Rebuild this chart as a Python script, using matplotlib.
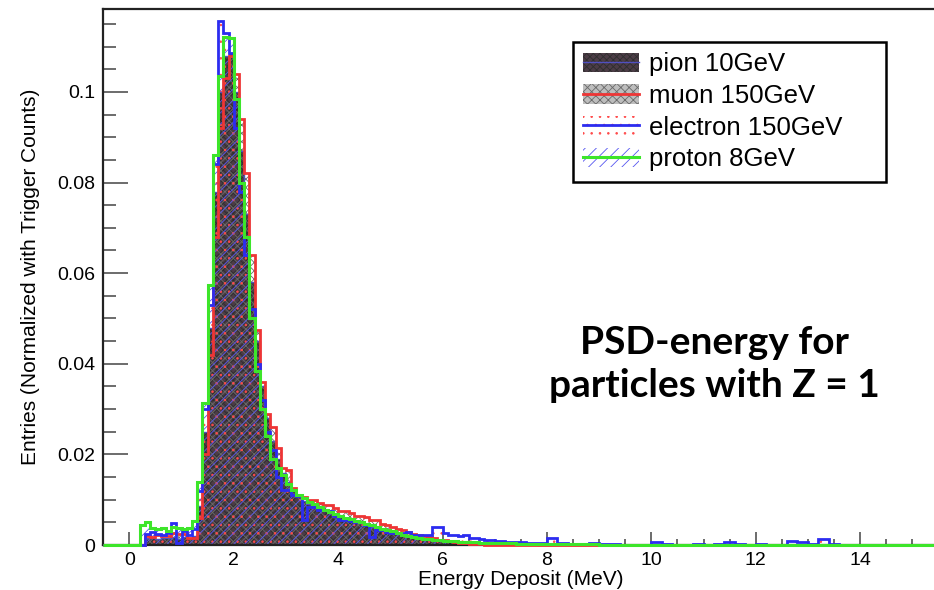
import numpy as np
import matplotlib
matplotlib.use('Agg')
import matplotlib.pyplot as plt
from matplotlib.patches import Patch
from matplotlib.lines import Line2D
from matplotlib.legend_handler import HandlerTuple
from matplotlib.ticker import MultipleLocator, FixedLocator

plt.rcParams['font.family'] = ['Liberation Sans', 'DejaVu Sans']
plt.rcParams['hatch.linewidth'] = 0.6

# bins: one empty bin from -0.5 to 0, then 0.1 MeV up to 7 MeV, then 0.2 MeV up to 16 MeV
fine_edges = np.linspace(0, 7, 71)
tail_edges = np.linspace(7, 16, 46)[1:]
edges = np.concatenate([[-0.5], fine_edges, tail_edges])

# normalized entries, first value is the [-0.5, 0) bin
pion_fine = [0, 0, 0, 0, 0.0015, 0.0016, 0.0014, 0.0015, 0.0016, 0.0018, 0.0014,
             0.0017, 0.0015, 0.0020, 0.0085, 0.0250, 0.0480, 0.0780, 0.1000, 0.1080, 0.1085,
             0.1000, 0.0870, 0.0730, 0.0580, 0.0450, 0.0350, 0.0280, 0.0230, 0.0190, 0.0160,
             0.0140, 0.0120, 0.0108, 0.0098, 0.0090, 0.0086, 0.0080, 0.0075, 0.0070, 0.0066,
             0.0062, 0.0058, 0.0054, 0.0051, 0.0048, 0.0044, 0.0040, 0.0037, 0.0034, 0.0031,
             0.0028, 0.0025, 0.0022, 0.0020, 0.0018, 0.0016, 0.0014, 0.0012, 0.0011, 0.0010,
             0.0009, 0.0008, 0.0007, 0.0006, 0.0005, 0.0005, 0.0004, 0.0004, 0.0003, 0.0003]
muon_fine = [0, 0, 0, 0, 0.0020, 0.0018, 0.0021, 0.0019, 0.0020, 0.0026, 0.0025,
             0.0024, 0.0015, 0.0016, 0.0060, 0.0200, 0.0420, 0.0680, 0.0920, 0.1030, 0.1080,
             0.1040, 0.0940, 0.0820, 0.0640, 0.0475, 0.0360, 0.0290, 0.0260, 0.0215, 0.0170,
             0.0165, 0.0126, 0.0110, 0.0105, 0.0099, 0.0099, 0.0093, 0.0088, 0.0088, 0.0082,
             0.0074, 0.0074, 0.0070, 0.0063, 0.0063, 0.0062, 0.0055, 0.0055, 0.0047, 0.0044,
             0.0040, 0.0036, 0.0033, 0.0028, 0.0024, 0.0022, 0.0020, 0.0017, 0.0015, 0.0012,
             0.0010, 0.0008, 0.0006, 0.0005, 0.0004, 0.0003, 0.0002, 0.0002, 0.0001, 0.0001]
electron_fine = [0, 0, 0, 0, 0.0025, 0.0028, 0.0025, 0.0022, 0.0027, 0.0048, 0.0004,
                 0.0030, 0.0022, 0.0035, 0.0120, 0.0300, 0.0530, 0.0840, 0.1157, 0.1130, 0.1085,
                 0.0920, 0.0780, 0.0640, 0.0520, 0.0400, 0.0320, 0.0250, 0.0210, 0.0151, 0.0121,
                 0.0121, 0.0110, 0.0108, 0.0056, 0.0084, 0.0084, 0.0077, 0.0077, 0.0075, 0.0063,
                 0.0055, 0.0055, 0.0054, 0.0051, 0.0051, 0.0044, 0.0018, 0.0033, 0.0033, 0.0029,
                 0.0026, 0.0026, 0.0026, 0.0029, 0.0022, 0.0022, 0.0021, 0.0022, 0.0040, 0.0040,
                 0.0026, 0.0022, 0.0022, 0.0020, 0.0021, 0.0015, 0.0015, 0.0014, 0.0012, 0.0010]
proton_fine = [0, 0, 0, 0.0045, 0.0051, 0.0038, 0.0036, 0.0038, 0.0031, 0.0040, 0.0037,
               0.0035, 0.0037, 0.0052, 0.0140, 0.0313, 0.0574, 0.0860, 0.1035, 0.1122, 0.1120,
               0.0985, 0.0800, 0.0680, 0.0500, 0.0385, 0.0300, 0.0240, 0.0190, 0.0170, 0.0155,
               0.0135, 0.0122, 0.0110, 0.0103, 0.0095, 0.0090, 0.0083, 0.0078, 0.0072, 0.0068,
               0.0065, 0.0060, 0.0057, 0.0054, 0.0050, 0.0046, 0.0044, 0.0040, 0.0036, 0.0033,
               0.0030, 0.0026, 0.0023, 0.0020, 0.0018, 0.0016, 0.0014, 0.0013, 0.0012, 0.0010,
               0.0009, 0.0008, 0.0008, 0.0007, 0.0007, 0.0006, 0.0006, 0.0005, 0.0005, 0.0004]

pion_tail = [0.0003, 0.0002, 0.0002, 0.0002, 0.0001, 0.0001, 0.0001, 0.0001, 0.0001, 0,
             0, 0, 0, 0, 0, 0, 0, 0, 0, 0, 0, 0, 0, 0, 0, 0, 0, 0, 0, 0,
             0, 0, 0, 0, 0, 0, 0, 0, 0, 0, 0, 0, 0, 0, 0]
muon_tail = [0.0001, 0, 0, 0, 0, 0, 0, 0, 0, 0, 0, 0, 0, 0, 0, 0, 0, 0, 0, 0,
             0, 0, 0, 0, 0, 0, 0, 0, 0, 0, 0, 0, 0, 0, 0, 0, 0, 0, 0, 0, 0, 0, 0, 0, 0]
electron_tail = [0.0009, 0.0007, 0.0006, 0.0005, 0.0004, 0.0015, 0.0004, 0.0003, 0.0002, 0.0005,
                 0.0002, 0.0002, 0.0001, 0.0001, 0.0001, 0.0007, 0.0002, 0.0001, 0.0001, 0.0002,
                 0.0001, 0.0002, 0.0006, 0.0002, 0.0001, 0.0003, 0.0001, 0.0001, 0.0008, 0.0006,
                 0.0002, 0.0013, 0.0002, 0.0001, 0.0001, 0.0001, 0, 0, 0, 0, 0, 0, 0, 0, 0]
proton_tail = [0.0004, 0.0004, 0.0003, 0.0003, 0.0003, 0.0003, 0.0002, 0.0002, 0.0002, 0.0002,
               0.0001, 0.0001, 0.0001, 0.0001, 0.0001, 0.0001, 0.0001, 0.0001, 0.0001, 0.0001,
               0.0001, 0.0001, 0.0001, 0.0001, 0.0001, 0.0001, 0.0001, 0.0001, 0.0001, 0.0001,
               0.0001, 0.0001, 0.0001, 0.0001, 0.0001, 0.0001, 0.0001, 0.0001, 0.0001, 0.0001,
               0.0001, 0.0001, 0.0001, 0.0001, 0.0001]

labels = ['pion 10GeV', 'muon 150GeV', 'electron 150GeV', 'proton 8GeV']
x_ticks = [0, 2, 4, 6, 8, 10, 12, 14]
y_ticks = [0, 0.02, 0.04, 0.06, 0.08, 0.1]

series = [pion_fine + pion_tail, muon_fine + muon_tail,
          electron_fine + electron_tail, proton_fine + proton_tail]

# fill face, hatch, hatch color, line color, line width
styles = [
    ('#4c3c46', 'xxxxx', '#2e2e2e', '#5050c0', 1.0),
    ('none', 'xxxx', '#6a6a6a', '#ee3535', 2.0),
    ('none', '..', '#ff4a4a', '#2c2cf0', 2.0),
    ('none', '///', '#5555f0', '#3de52a', 2.2),
]

fig = plt.figure(figsize=(9.34, 5.9), dpi=100)
ax = fig.add_axes([103.3 / 934, 45 / 590, (938.4 - 103.3) / 934, 536 / 590])

for vals, (face, hatch, hcol, lcol, lw) in zip(series, styles):
    vals = np.array(vals)
    ax.stairs(vals, edges, fill=True, facecolor=face, edgecolor=hcol,
              hatch=hatch, linewidth=0, zorder=2)
    ax.stairs(vals, edges, color=lcol, linewidth=lw, zorder=3, clip_on=False)

ax.set_xlim(-0.5, 15.5)
ax.set_ylim(0, 0.1183)

ax.xaxis.set_major_locator(FixedLocator(x_ticks))
ax.xaxis.set_minor_locator(MultipleLocator(0.5))
ax.yaxis.set_major_locator(FixedLocator(y_ticks))
ax.yaxis.set_minor_locator(MultipleLocator(0.005))
ax.set_yticklabels(['0', '0.02', '0.04', '0.06', '0.08', '0.1'])

ax.tick_params(axis='both', which='both', direction='in', colors='#444444',
               labelcolor='black', labelsize=14, top=False, right=False)
ax.tick_params(axis='y', which='major', length=18, width=1.1, pad=6)
ax.tick_params(axis='y', which='minor', length=9, width=1.1)
ax.tick_params(axis='x', which='major', length=9.5, width=1.1, pad=5)
ax.tick_params(axis='x', which='minor', length=4.5, width=1.1)

for s in ax.spines.values():
    s.set_linewidth(1.6)
    s.set_color('#222222')

ax.set_xlabel('Energy Deposit (MeV)', fontsize=15, labelpad=1)
ax.set_ylabel('Entries (Normalized with Trigger Counts)', fontsize=15, labelpad=12)

handles = []
for face, hatch, hcol, lcol, lw in styles:
    if face == 'none':
        face = 'white'
    if hatch == 'xxxx':
        face = '#bdbdbd'
    p = Patch(facecolor=face, edgecolor=hcol, hatch=hatch, linewidth=0)
    l = Line2D([], [], color=lcol, linewidth=lw)
    handles.append((p, l))

leg = ax.legend(handles, labels, handler_map={tuple: HandlerTuple(ndivide=1)},
                loc='upper left', mode='expand',
                bbox_to_anchor=(573 / 934, (590 - 177) / 590, 313 / 934, 135 / 590),
                bbox_transform=fig.transFigure, borderaxespad=0, fontsize=18.5,
                handlelength=2.15, handleheight=0.8, handletextpad=0.4,
                labelspacing=0.3, borderpad=0.4, fancybox=False, framealpha=1)
leg.get_frame().set_edgecolor('black')
leg.get_frame().set_linewidth(1.8)

fig.text(714 / 934, 1 - 364 / 590, 'PSD-energy for\nparticles with Z = 1',
         ha='center', va='center', fontsize=28, fontweight='bold',
         family=['Lato', 'DejaVu Sans'], linespacing=1.3)

fig.savefig('out.png', dpi=100)
